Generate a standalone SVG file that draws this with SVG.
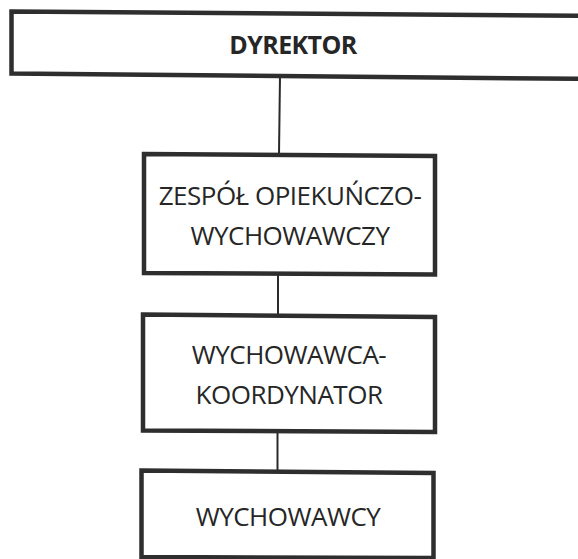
<svg xmlns="http://www.w3.org/2000/svg" width="578" height="559" viewBox="0 0 578 559">
<style>
.box{fill:#ffffff;stroke:#2e2e2e;stroke-width:4.5;stroke-linejoin:miter}
.lbl{font-family:"Open Sans","Liberation Sans",sans-serif;font-size:26px;letter-spacing:-0.5px;fill:#262626;text-anchor:middle}
.bold{font-weight:bold;font-size:25px;letter-spacing:-0.6px}
.conn{stroke:#2a2a2a;stroke-width:2;fill:none}
</style>
<rect x="0" y="0" width="578" height="559" fill="#ffffff"/>
<g id="connectors">
<line class="conn" x1="280" y1="76" x2="279" y2="154"/>
<line class="conn" x1="278" y1="274" x2="278" y2="315"/>
<line class="conn" x1="277.5" y1="431" x2="277.5" y2="471"/>
</g>
<g id="dyrektor">
<path class="box" d="M11.5,11.5 L600,16 L600,79 L11.5,73.5 Z"/>
<text class="lbl bold" x="293" y="54">DYREKTOR</text>
</g>
<g id="zespol">
<path class="box" d="M144,154 L435,156 L435,274.5 L144,273 Z"/>
<text class="lbl" x="290" y="205">ZESPÓŁ OPIEKUŃCZO-</text>
<text class="lbl" x="290" y="245">WYCHOWAWCZY</text>
</g>
<g id="koordynator">
<path class="box" d="M143,314.5 L435,317 L435,432 L143,430.5 Z"/>
<text class="lbl" x="289" y="364">WYCHOWAWCA-</text>
<text class="lbl" x="289" y="404">KOORDYNATOR</text>
</g>
<g id="wychowawcy">
<path class="box" d="M141.5,470.5 L433.5,473 L433.5,558 L141.5,557 Z"/>
<text class="lbl" x="288" y="526">WYCHOWAWCY</text>
</g>
</svg>
